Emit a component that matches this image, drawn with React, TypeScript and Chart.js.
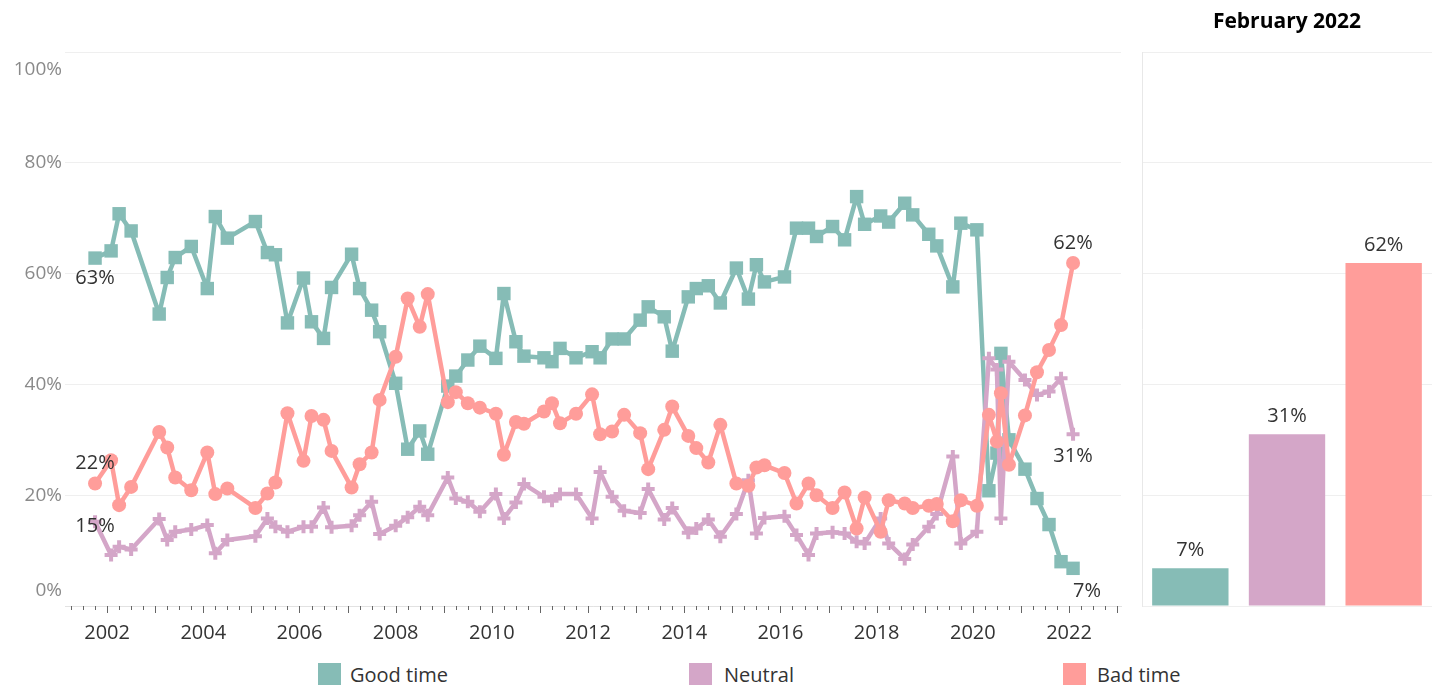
import React, { useEffect, useRef } from 'react';
import { Chart, registerables } from 'chart.js';

Chart.register(...registerables);

// ---------- data ----------
const surveyDates = [
  '2001-10', '2002-02', '2002-04', '2002-07', '2003-02', '2003-04', '2003-06', '2003-10', '2004-02', '2004-04',
  '2004-07', '2005-02', '2005-05', '2005-07', '2005-10', '2006-02', '2006-04', '2006-07', '2006-09', '2007-02',
  '2007-04', '2007-07', '2007-09', '2008-01', '2008-04', '2008-07', '2008-09', '2009-02', '2009-04', '2009-07',
  '2009-10', '2010-02', '2010-04', '2010-07', '2010-09', '2011-02', '2011-04', '2011-06', '2011-10', '2012-02',
  '2012-04', '2012-07', '2012-10', '2013-02', '2013-04', '2013-08', '2013-10', '2014-02', '2014-04', '2014-07',
  '2014-10', '2015-02', '2015-05', '2015-07', '2015-09', '2016-02', '2016-05', '2016-08', '2016-10', '2017-02',
  '2017-05', '2017-08', '2017-10', '2018-02', '2018-04', '2018-08', '2018-10', '2019-02', '2019-04', '2019-08',
  '2019-10', '2020-02', '2020-05', '2020-07', '2020-08', '2020-10', '2021-02', '2021-05', '2021-08', '2021-11',
  '2022-02',
];

const goodTime = [
  62.8, 64.1, 70.8, 67.7, 52.7, 59.3, 62.9, 64.9, 57.3, 70.3,
  66.4, 69.4, 63.8, 63.4, 51.1, 59.2, 51.3, 48.3, 57.5, 63.5,
  57.3, 53.4, 49.5, 40.2, 28.3, 31.6, 27.4, 39.7, 41.5, 44.4,
  46.9, 44.7, 56.4, 47.7, 45.1, 44.8, 44.1, 46.5, 44.8, 45.9,
  44.8, 48.2, 48.2, 51.6, 54.0, 52.2, 46.0, 55.8, 57.3, 57.8,
  54.7, 61.0, 55.4, 61.6, 58.5, 59.4, 68.2, 68.2, 66.7, 68.5,
  66.1, 73.9, 68.9, 70.4, 69.3, 72.7, 70.6, 67.1, 65.0, 57.6,
  69.1, 67.9, 20.8, 27.6, 45.6, 30.0, 24.7, 19.4, 14.7, 8.0,
  6.8,
];

const neutral = [
  15.2, 9.2, 10.7, 10.2, 15.7, 11.9, 13.4, 13.8, 14.6, 9.5,
  11.9, 12.6, 15.8, 14.3, 13.4, 14.3, 14.3, 17.8, 14.2, 14.5,
  16.4, 18.8, 13.0, 14.5, 16.0, 17.9, 16.4, 23.2, 19.4, 18.8,
  17.0, 20.2, 15.8, 18.7, 22.0, 19.7, 19.0, 20.2, 20.2, 15.8,
  24.2, 19.7, 17.2, 16.8, 21.1, 15.6, 17.7, 13.2, 14.0, 15.6,
  12.5, 16.6, 22.7, 13.1, 15.9, 16.2, 12.8, 9.2, 13.1, 13.3,
  13.1, 11.6, 11.3, 15.8, 11.3, 8.5, 11.1, 14.3, 16.6, 27.0,
  11.3, 13.4, 44.7, 42.7, 15.8, 44.1, 40.8, 38.1, 38.7, 41.1,
  31.0,
];

const badTime = [
  22.1, 26.3, 18.2, 21.5, 31.4, 28.6, 23.2, 20.9, 27.7, 20.2,
  21.2, 17.7, 20.3, 22.3, 34.8, 26.2, 34.3, 33.6, 28.0, 21.4,
  25.6, 27.7, 37.2, 45.0, 55.5, 50.4, 56.3, 36.8, 38.6, 36.6,
  35.8, 34.7, 27.3, 33.2, 32.9, 35.1, 36.6, 33.0, 34.7, 38.2,
  31.0, 31.5, 34.5, 31.2, 24.7, 31.8, 36.0, 30.7, 28.5, 25.9,
  32.7, 22.1, 21.7, 25.0, 25.4, 24.0, 18.5, 22.1, 20.0, 17.7,
  20.5, 14.0, 19.6, 13.4, 19.1, 18.5, 17.7, 18.1, 18.4, 15.3,
  19.1, 18.1, 34.5, 29.7, 38.4, 25.5, 34.4, 42.2, 46.2, 50.7,
  61.9,
];

const seriesNames = ['Good time', 'Neutral', 'Bad time'];
const yTickValues = [0, 20, 40, 60, 80, 100];
const yearLabels = [2002, 2004, 2006, 2008, 2010, 2012, 2014, 2016, 2018, 2020, 2022];
const barTitle = 'February 2022';

// ---------- styles ----------
const COLORS = ['#86BCB6', '#D4A6C8', '#FF9D9A'];
const FONT = '"Open Sans", "DejaVu Sans", sans-serif';
const X_MIN = 2001.125;
const X_MAX = 2023.08;

const toYear = (d: string) => {
  const [y, m] = d.split('-').map(Number);
  return y + (m - 1) / 12;
};

// label offsets for first / last point of each series [dx, dy]
const END_OFFSETS = [
  { first: [0, 20], last: [14, 23] },
  { first: [0, 5], last: [0, 22] },
  { first: [0, -20], last: [0, -20] },
];

const yLabelsPlugin = {
  id: 'yLabels',
  afterDraw(chart: any) {
    const ctx = chart.ctx;
    const y = chart.scales.y;
    ctx.save();
    ctx.font = `19px ${FONT}`;
    ctx.fillStyle = '#8a8a8a';
    ctx.textAlign = 'right';
    ctx.textBaseline = 'middle';
    yTickValues.forEach((v) => {
      let py = y.getPixelForValue(v);
      if (v === y.max) py += 18;
      if (v === y.min) py -= 15;
      ctx.fillText(`${v}%`, 62, py);
    });
    ctx.restore();
  },
};

const tickMarksPlugin = {
  id: 'tickMarks',
  afterDraw(chart: any) {
    const ctx = chart.ctx;
    const x = chart.scales.x;
    ctx.save();
    ctx.strokeStyle = '#666';
    ctx.lineWidth = 1;
    for (let q = Math.ceil(x.min * 4) / 4; q <= x.max + 1e-9; q += 0.25) {
      const px = Math.round(x.getPixelForValue(q)) + 0.5;
      const major = Math.abs(q - Math.round(q)) < 1e-6;
      const len = major ? 7 : 4;
      ctx.beginPath();
      ctx.moveTo(px, x.top);
      ctx.lineTo(px, x.top + len);
      ctx.stroke();
    }
    ctx.restore();
  },
};

const endLabelsPlugin = {
  id: 'endLabels',
  afterDatasetsDraw(chart: any) {
    const ctx = chart.ctx;
    ctx.save();
    ctx.font = `20px ${FONT}`;
    ctx.fillStyle = '#333';
    ctx.textAlign = 'center';
    ctx.textBaseline = 'middle';
    chart.data.datasets.forEach((ds: any, i: number) => {
      const meta = chart.getDatasetMeta(i);
      const pts = meta.data;
      const off = END_OFFSETS[i];
      const first = pts[0];
      const last = pts[pts.length - 1];
      const vFirst = ds.data[0].y;
      const vLast = ds.data[ds.data.length - 1].y;
      ctx.fillText(`${Math.round(vFirst)}%`, first.x + off.first[0], first.y + off.first[1]);
      ctx.fillText(`${Math.round(vLast)}%`, last.x + off.last[0], last.y + off.last[1]);
    });
    ctx.restore();
  },
};

const barLabelsPlugin = {
  id: 'barLabels',
  afterDatasetsDraw(chart: any) {
    const ctx = chart.ctx;
    ctx.save();
    ctx.font = `20px ${FONT}`;
    ctx.fillStyle = '#333';
    ctx.textAlign = 'center';
    ctx.textBaseline = 'middle';
    const meta = chart.getDatasetMeta(0);
    meta.data.forEach((bar: any, i: number) => {
      const v = chart.data.datasets[0].data[i];
      ctx.fillText(`${Math.round(v)}%`, bar.x, bar.y - 18);
    });
    ctx.restore();
  },
};

export default function App() {
  const lineRef = useRef<HTMLCanvasElement>(null);
  const barRef = useRef<HTMLCanvasElement>(null);

  useEffect(() => {
    const xs = surveyDates.map(toYear);
    const series = [goodTime, neutral, badTime];
    const pointStyles = ['rect', 'cross', 'circle'];
    const pointRadii = [9.5, 6.5, 7];
    const pointBorders = [0, 4, 0];
    const orders = [2, 1, 0];

    const lineChart = new Chart(lineRef.current!, {
      type: 'line',
      data: {
        datasets: series.map((vals, i) => ({
          label: seriesNames[i],
          data: vals.map((v, j) => ({ x: xs[j], y: v })),
          borderColor: COLORS[i],
          backgroundColor: COLORS[i],
          borderWidth: 4.5,
          borderJoinStyle: 'round',
          borderCapStyle: 'round',
          pointStyle: pointStyles[i],
          pointRadius: pointRadii[i],
          pointBorderWidth: pointBorders[i],
          pointBackgroundColor: COLORS[i],
          pointBorderColor: COLORS[i],
          tension: 0,
          order: orders[i],
        })) as any,
      },
      options: {
        animation: false,
        responsive: false,
        maintainAspectRatio: false,
        layout: { padding: { top: 52, right: 19, left: 0, bottom: 0 } },
        plugins: {
          legend: { display: false },
          tooltip: { enabled: false },
        },
        scales: {
          x: {
            type: 'linear',
            min: X_MIN,
            max: X_MAX,
            grid: { display: false },
            border: { display: true, color: '#e2e2e2' },
            ticks: {
              stepSize: 1,
              autoSkip: false,
              maxRotation: 0,
              includeBounds: false,
              padding: 7,
              color: '#333',
              font: { family: FONT, size: 20 },
              callback: (v: any) => (yearLabels.includes(Number(v)) ? String(v) : ''),
            },
            afterFit: (s: any) => {
              s.height = 44;
            },
          },
          y: {
            min: 0,
            max: 100,
            ticks: { display: false, stepSize: 20 },
            grid: { color: '#efefef', drawTicks: false },
            border: { display: false },
            afterFit: (s: any) => {
              s.width = 65;
            },
          },
        },
      } as any,
      plugins: [yLabelsPlugin, tickMarksPlugin, endLabelsPlugin],
    });

    const barChart = new Chart(barRef.current!, {
      type: 'bar',
      data: {
        labels: seriesNames,
        datasets: [
          {
            data: series.map((s) => s[s.length - 1]),
            backgroundColor: COLORS,
            categoryPercentage: 1,
            barPercentage: 0.79,
          },
        ],
      },
      options: {
        animation: false,
        responsive: false,
        maintainAspectRatio: false,
        layout: { padding: { left: 2, right: 8, top: 0, bottom: 44 } },
        plugins: {
          legend: { display: false },
          tooltip: { enabled: false },
          title: {
            display: true,
            text: barTitle,
            color: '#000',
            font: { family: FONT, size: 21, weight: 'bold', lineHeight: 1.2 },
            padding: { top: 9.4, bottom: 17.4 },
          },
        },
        scales: {
          x: { display: false },
          y: {
            min: 0,
            max: 100,
            ticks: { display: false, stepSize: 20 },
            grid: { color: '#efefef', drawTicks: false },
            border: { display: true, color: '#e8e8e8' },
            afterFit: (s: any) => {
              s.width = 0;
            },
          },
        },
      } as any,
      plugins: [barLabelsPlugin],
    });

    return () => {
      lineChart.destroy();
      barChart.destroy();
    };
  }, []);

  const legendPos = [
    { sq: 318, tx: 350 },
    { sq: 689, tx: 724 },
    { sq: 1063, tx: 1097 },
  ];

  return (
    <div
      style={{
        position: 'fixed',
        left: 0,
        top: 0,
        width: 1440,
        height: 685,
        overflow: 'hidden',
        background: '#fff',
      }}
    >
      <canvas
        ref={lineRef}
        width={1140}
        height={650}
        style={{ position: 'absolute', left: 0, top: 0, width: 1140, height: 650 }}
      />
      <canvas
        ref={barRef}
        width={300}
        height={650}
        style={{ position: 'absolute', left: 1140, top: 0, width: 300, height: 650 }}
      />
      {seriesNames.map((name, i) => (
        <React.Fragment key={name}>
          <div
            style={{
              position: 'absolute',
              left: legendPos[i].sq,
              top: 663,
              width: 23,
              height: 23,
              background: COLORS[i],
            }}
          />
          <div
            style={{
              position: 'absolute',
              left: legendPos[i].tx,
              top: 662,
              lineHeight: '26px',
              fontFamily: FONT,
              fontSize: 20,
              color: '#333',
              whiteSpace: 'nowrap',
            }}
          >
            {name}
          </div>
        </React.Fragment>
      ))}
    </div>
  );
}
